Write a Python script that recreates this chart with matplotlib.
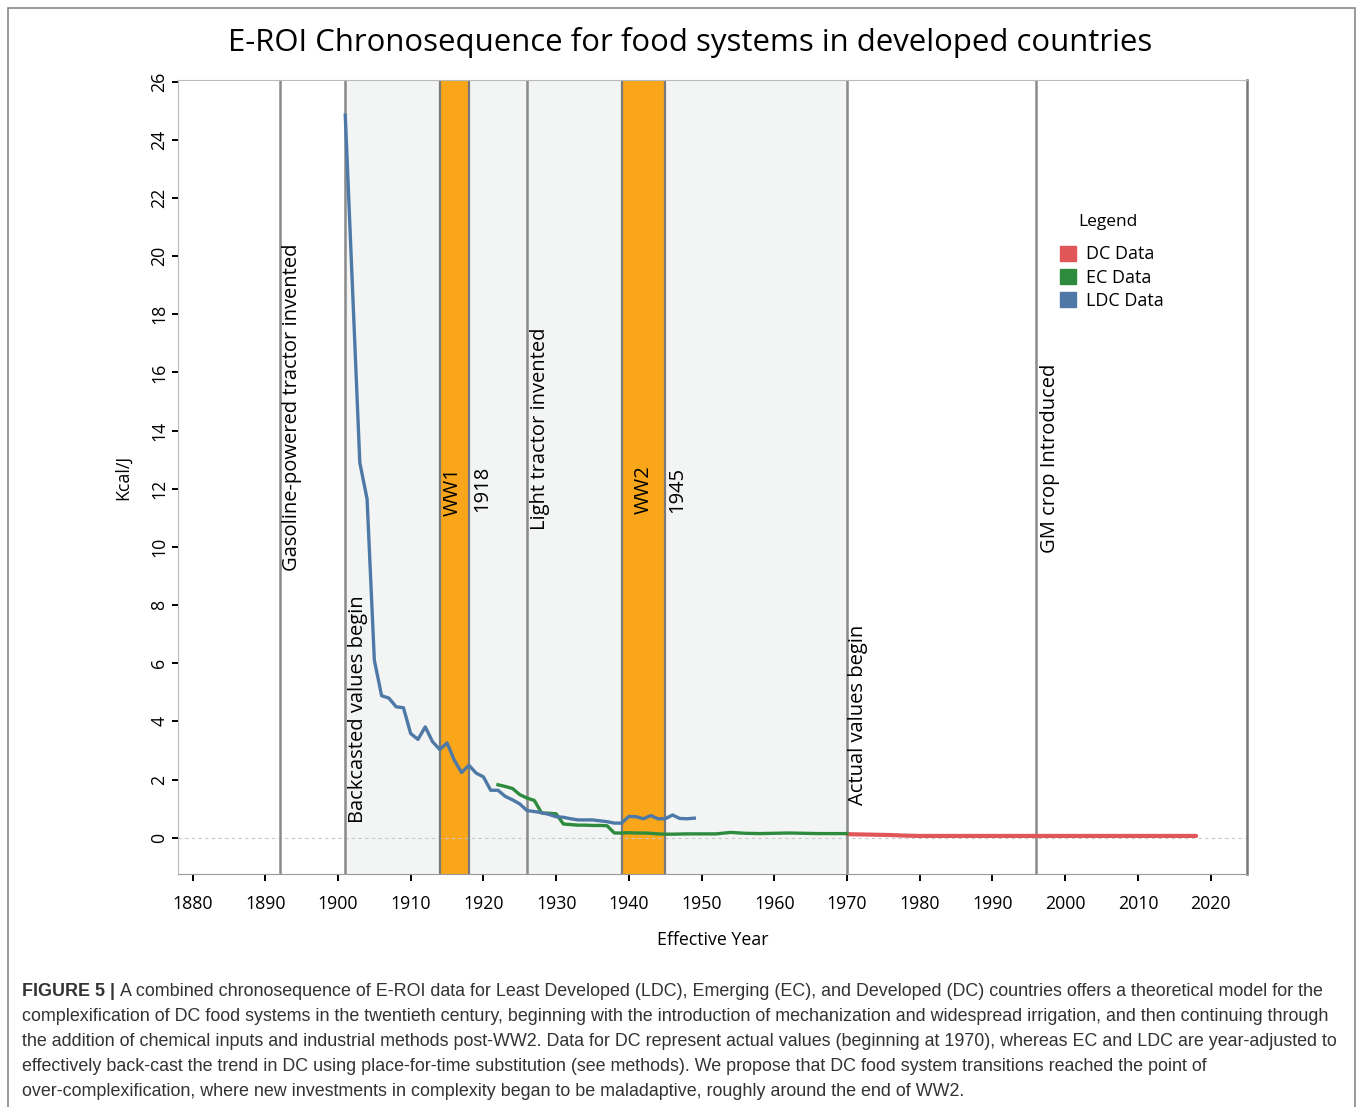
import numpy as np
import matplotlib
matplotlib.use('Agg')
import matplotlib.pyplot as plt
from matplotlib.patches import Patch, Rectangle

plt.rcParams['font.family'] = ['Open Sans', 'DejaVu Sans']

# LDC series (year adjusted, back-cast)
ldc_years = [1901, 1903, 1904, 1905, 1906, 1907, 1908, 1909, 1910, 1911, 1912, 1913,
             1914, 1915, 1916, 1917, 1918, 1919, 1920, 1921, 1922, 1923, 1924, 1925,
             1926, 1927, 1928, 1929, 1930, 1931, 1932, 1933, 1934, 1935, 1936, 1937,
             1938, 1939, 1940, 1941, 1942, 1943, 1944, 1945, 1946, 1947, 1948, 1949]
ldc_vals = [24.85, 12.9, 11.65, 6.1, 4.88, 4.8, 4.5, 4.47, 3.58, 3.38, 3.81, 3.3,
            3.03, 3.26, 2.66, 2.24, 2.49, 2.22, 2.09, 1.63, 1.63, 1.42, 1.3, 1.16,
            0.93, 0.9, 0.86, 0.8, 0.72, 0.7, 0.65, 0.61, 0.61, 0.61, 0.58, 0.55,
            0.5, 0.5, 0.73, 0.72, 0.65, 0.76, 0.65, 0.65, 0.78, 0.66, 0.65, 0.67]

# EC series
ec_years = [1922, 1923, 1924, 1925, 1926, 1927, 1928, 1929, 1930, 1931, 1932, 1933,
            1934, 1935, 1936, 1937, 1938, 1939, 1940, 1941, 1942, 1943, 1944, 1945,
            1946, 1948, 1950, 1952, 1954, 1956, 1958, 1960, 1962, 1964, 1966, 1968, 1970]
ec_vals = [1.82, 1.76, 1.69, 1.48, 1.36, 1.28, 0.85, 0.84, 0.82, 0.47, 0.45, 0.43,
           0.43, 0.42, 0.42, 0.41, 0.16, 0.16, 0.17, 0.16, 0.16, 0.15, 0.13, 0.12,
           0.12, 0.13, 0.13, 0.13, 0.18, 0.15, 0.14, 0.15, 0.16, 0.15, 0.14, 0.14, 0.14]

# DC series (actual values)
dc_years = [1970, 1972, 1974, 1976, 1978, 1980, 1985, 1990, 1995, 2000, 2005, 2010, 2015, 2018]
dc_vals = [0.12, 0.11, 0.1, 0.09, 0.07, 0.06, 0.06, 0.06, 0.06, 0.06, 0.06, 0.06, 0.06, 0.06]

event_years = [1892, 1901, 1926, 1970, 1996]
war_spans = [(1914, 1918), (1939, 1945)]

c_ldc = '#4e79a7'
c_ec = '#2e8b3e'
c_dc = '#e15759'
c_line = '#8a8a8a'

fig = plt.figure(figsize=(13.6, 11.07), dpi=100)
ax = fig.add_axes([178 / 1360, 1 - 874 / 1107, (1247 - 178) / 1360, (874 - 80) / 1107])

ax.axvspan(1901, 1970, color='#f3f4f4', zorder=0)
for a, b in war_spans:
    ax.axvspan(a, b, facecolor='#f9a61a', edgecolor='none', zorder=1)
    ax.axvline(a, color='#7a7a7a', lw=1.6, zorder=2)
    ax.axvline(b, color='#7a7a7a', lw=1.6, zorder=2)
for yr in event_years:
    ax.axvline(yr, color=c_line, lw=1.8, zorder=2)

ax.axhline(0, color='#c8c8c8', lw=0.8, ls=(0, (3, 3)), zorder=1)

ax.plot(dc_years, dc_vals, color=c_dc, lw=3.0, zorder=4, solid_capstyle='round')
ax.plot(ec_years, ec_vals, color=c_ec, lw=2.4, zorder=4)
ax.plot(ldc_years, ldc_vals, color=c_ldc, lw=2.4, zorder=5)

ax.set_xlim(1878, 2025)
ax.set_ylim(-1.25, 26.06)
ax.set_xticks(np.arange(1880, 2021, 10))
ax.set_yticks(np.arange(0, 27, 2))
ax.tick_params(axis='x', length=5, width=1.4, color='black', labelsize=12.8, pad=10)
ax.tick_params(axis='y', length=4, width=1.4, color='black', labelsize=12.8, pad=3)
for lab in ax.get_yticklabels():
    lab.set_rotation(90)
    lab.set_va('center')

ax.spines['left'].set_color('#bbbbbb')
ax.spines['top'].set_color('#bbbbbb')
ax.spines['bottom'].set_color('#999999')
ax.spines['right'].set_color('#777777')
ax.spines['right'].set_linewidth(1.8)

ax.set_xlabel('Effective Year', fontsize=12.8, labelpad=13)
ax.set_ylabel('Kcal/J', fontsize=12.8, labelpad=13)

notes = [
    (1893.7, 14.8, 'Gasoline-powered tractor invented'),
    (1902.7, 4.41, 'Backcasted values begin'),
    (1915.8, 11.9, 'WW1'),
    (1919.8, 11.98, '1918'),
    (1927.8, 14.06, 'Light tractor invented'),
    (1942.1, 11.96, 'WW2'),
    (1946.7, 11.96, '1945'),
    (1971.5, 4.22, 'Actual values begin'),
    (1997.9, 13.04, 'GM crop Introduced'),
]
for x, y, s in notes:
    ax.text(x, y, s, rotation=90, ha='center', va='center', fontsize=14.5, zorder=6)

handles = [Patch(color=c_dc, label='DC Data'), Patch(color=c_ec, label='EC Data'),
           Patch(color=c_ldc, label='LDC Data')]
leg = ax.legend(handles=handles, title='Legend', loc='upper left', frameon=False,
                bbox_to_anchor=(1051 / 1360, 1 - 205 / 1107), bbox_transform=fig.transFigure,
                fontsize=13, title_fontsize=12.5, handlelength=0.9, handleheight=0.9,
                handletextpad=0.55, labelspacing=0.3, borderpad=0, alignment='left')
leg._legend_box.sep = 11
leg.get_title().set_position((18, 0))

fig.text(690 / 1360, 1 - 42 / 1107, 'E-ROI Chronosequence for food systems in developed countries',
         ha='center', va='center', fontsize=22.4)

# caption
cap_font = ['Liberation Sans', 'DejaVu Sans']
cap_lines = [
    'A combined chronosequence of E-ROI data for Least Developed (LDC), Emerging (EC), and Developed (DC) countries offers a theoretical model for the',
    'complexification of DC food systems in the twentieth century, beginning with the introduction of mechanization and widespread irrigation, and then continuing through',
    'the addition of chemical inputs and industrial methods post-WW2. Data for DC represent actual values (beginning at 1970), whereas EC and LDC are year-adjusted to',
    'effectively back-cast the trend in DC using place-for-time substitution (see methods). We propose that DC food system transitions reached the point of',
    'over-complexification, where new investments in complexity began to be maladaptive, roughly around the end of WW2.',
]
cap_y = [990, 1015, 1040, 1065, 1090]
bold = fig.text(22 / 1360, 1 - (cap_y[0] + 6) / 1107, 'FIGURE 5 | ', fontsize=12.9,
                family=cap_font, weight='bold', color='#333333', va='baseline')
fig.canvas.draw()
bw = bold.get_window_extent().width / fig.bbox.width
for i, (s, yy) in enumerate(zip(cap_lines, cap_y)):
    x0 = 22 / 1360 + (bw if i == 0 else 0)
    fig.text(x0, 1 - (yy + 6) / 1107, s, fontsize=12.9, family=cap_font,
             color='#333333', va='baseline')

fig.patches.append(Rectangle((8 / 1360, -0.01), (1355 - 8) / 1360, 1 - 8 / 1107 + 0.01,
                             transform=fig.transFigure, fill=False, edgecolor='#888888', lw=1.2))

fig.savefig('out.png', dpi=100)
